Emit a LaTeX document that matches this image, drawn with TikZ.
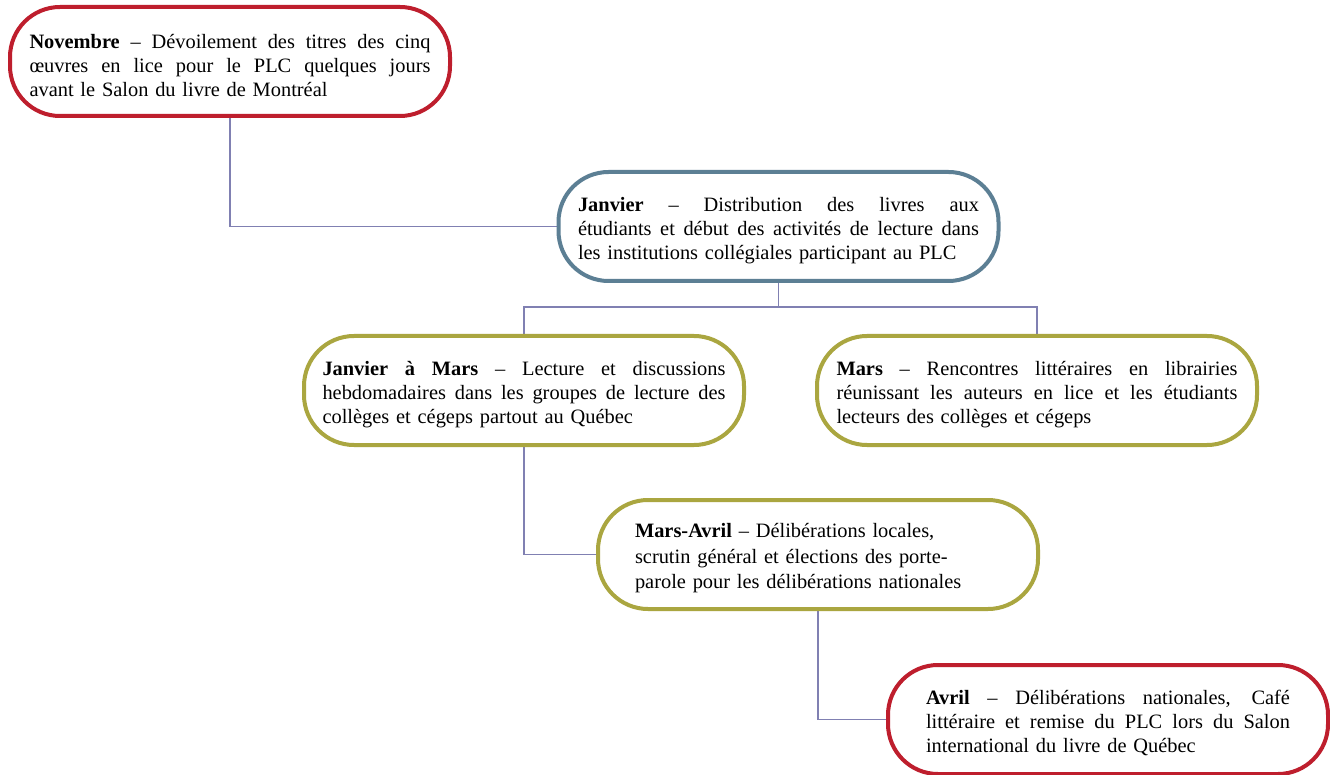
\documentclass[tikz,border=0pt]{standalone}
\usepackage{fontspec}
\setmainfont{Liberation Serif}
\usetikzlibrary{calc,backgrounds}
\definecolor{cred}{RGB}{190,30,45}
\definecolor{cblue}{RGB}{92,127,148}
\definecolor{colive}{RGB}{170,166,64}
\definecolor{cline}{RGB}{128,128,178}
\newcommand{\jline}[1]{\makebox[\hsize][s]{\spaceskip=0pt\xspaceskip=0pt #1}\\}
\newcommand{\tstrut}{\rule{0pt}{22pt}}
\begin{document}
\begin{tikzpicture}[x=1pt,y=-1pt,
  evbox/.style={draw=#1, line width=4pt, rounded corners=50pt, fill=white,
    minimum width=440pt, minimum height=109pt, inner xsep=4pt,
    font=\fontsize{20.4}{24}\selectfont, align=left},
  conn/.style={draw=cline, line width=1.5pt}]
\useasboundingbox (0,0) rectangle (1330,775);
\node[evbox=cred, text width=401pt] (n1) at (230,61.5) {%
\jline{\tstrut\textbf{Novembre} -- Dévoilement des titres des cinq}
\jline{œuvres en lice pour le PLC quelques jours}
avant le Salon du livre de Montréal};
\node[evbox=cblue, text width=401pt] (n2) at (778.5,226.5) {%
\jline{\tstrut\textbf{Janvier} -- Distribution des livres aux}
\jline{étudiants et début des activités de lecture dans}
les institutions collégiales participant au PLC};
\node[evbox=colive, text width=403pt] (n3) at (524,390.5) {%
\jline{\tstrut\textbf{Janvier à Mars} -- Lecture et discussions}
\jline{hebdomadaires dans les groupes de lecture des}
collèges et cégeps partout au Québec};
\node[evbox=colive, text width=401pt] (n4) at (1037,390.5) {%
\jline{\tstrut\textbf{Mars} -- Rencontres littéraires en librairies}
\jline{réunissant les auteurs en lice et les étudiants}
lecteurs des collèges et cégeps};
\node[evbox=colive, text width=366pt, font=\fontsize{20.4}{25.5}\selectfont] (n5) at (818,554.5) {%
\tstrut\textbf{Mars-Avril} -- Délibérations locales,\\
scrutin général et élections des porte-\\
parole pour les délibérations nationales};
\node[evbox=cred, text width=364pt] (n6) at (1108,719.5) {%
\jline{\tstrut\textbf{Avril} -- Délibérations nationales, Café}
\jline{littéraire et remise du PLC lors du Salon}
international du livre de Québec};
\begin{scope}[on background layer]
\fill[white] (0,0) rectangle (1330,775);
\draw[conn] (n1.south) |- (n2.west);
\coordinate (j) at ($(n2.south)+(0,24)$);
\draw[conn] (n2.south) -- (j);
\draw[conn] (j) -| (n3.north);
\draw[conn] (j) -| (n4.north);
\draw[conn] (n3.south) |- (n5.west);
\draw[conn] (n5.south) |- (n6.west);
\end{scope}
\end{tikzpicture}
\end{document}
